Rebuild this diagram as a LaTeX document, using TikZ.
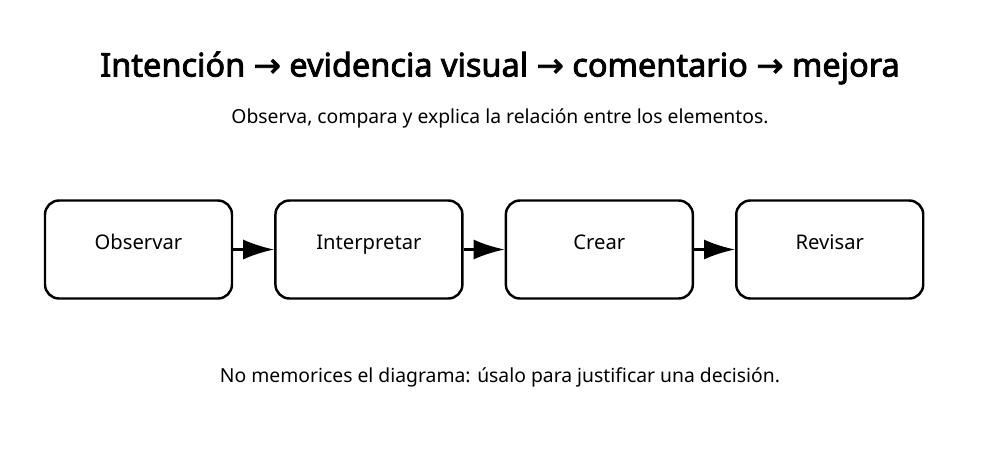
\documentclass[tikz,border=0pt]{standalone}
\usepackage{fontspec}
\setmainfont{Noto Sans}[AutoFakeBold=2.5]
\newfontfamily\symfont{DejaVu Sans}[AutoFakeBold=2.5]
\usetikzlibrary{positioning,arrows.meta}
\newcommand{\tto}{{\symfont\char"2192}}
\begin{document}
\begin{tikzpicture}[x=0.02cm,y=-0.02cm,
    stage/.style={draw,line width=1.4pt,rounded corners=8pt,minimum width=3.74cm,
      minimum height=1.96cm,font=\fontsize{11.5}{13}\selectfont,
      inner sep=0pt,text height=0.25cm,text depth=0.25cm},
    flow/.style={line width=1.4pt,-{Latex[length=0.62cm,width=0.4cm]}}]
  \useasboundingbox (0,0) rectangle (1000,467);
  \node[font=\fontsize{18.5}{21}\selectfont\bfseries] (title) at (500,68)
    {Intención \tto{} evidencia visual \tto{} comentario \tto{} mejora};
  \node[font=\fontsize{11}{13}\selectfont] (sub) at (500,118)
    {Observa, compara y explica la relación entre los elementos.};
  \node[stage] (obs) at (138.5,249.5) {Observar};
  \node[stage,right=0.82cm of obs] (int) {Interpretar};
  \node[stage,right=0.82cm of int] (cre) {Crear};
  \node[stage,right=0.82cm of cre] (rev) {Revisar};
  \draw[flow] (obs) -- (int);
  \draw[flow] (int) -- (cre);
  \draw[flow] (cre) -- (rev);
  \node[font=\fontsize{11}{13}\selectfont] (note) at (500,377)
    {No memorices el diagrama: úsalo para justificar una decisión.};
\end{tikzpicture}
\end{document}
